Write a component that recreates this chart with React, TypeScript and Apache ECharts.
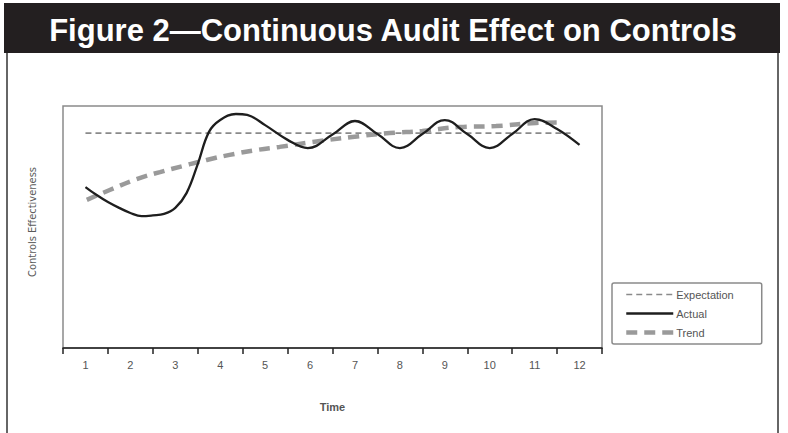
import React, { useEffect, useRef } from "react";
import * as echarts from "echarts";

const timeLabels = ["1", "2", "3", "4", "5", "6", "7", "8", "9", "10", "11", "12"];

const actualX = [1, 1.25, 1.5, 1.75, 2, 2.25, 2.5, 2.75, 3, 3.25, 3.5, 3.75, 4, 4.35, 4.6, 5, 5.5, 5.95, 6.5, 7, 7.5, 8, 8.5, 9, 9.5, 10, 10.5, 11, 11.5, 12];
const actualY = [66.5, 63.2, 60.3, 57.9, 55.8, 54.5, 54.8, 55.4, 57.9, 64.0, 76.0, 89.3, 94.2, 96.7, 96.3, 92.1, 86.0, 82.6, 88.2, 93.8, 88.4, 82.6, 88.4, 94.2, 88.4, 82.6, 88.4, 94.6, 90.5, 83.9];

const trendX = [1.03, 1.54, 2.14, 2.66, 3.17, 3.7, 4.21, 4.81, 5.32, 6.06, 6.94, 7.77, 8.5, 9.32, 10.14, 11.03, 11.55];
const trendY = [61.2, 65.3, 69.8, 72.7, 75.2, 77.7, 79.8, 81.8, 83.1, 85.1, 87.2, 88.8, 89.7, 91.3, 91.7, 93.0, 93.2];

const expectationX = [1, 11.8];
const expectationY = [88.8, 88.8];

const zip = (xs: number[], ys: number[]) => xs.map((x, i) => [x, ys[i]]);

export default function App() {
  const ref = useRef<HTMLDivElement>(null);
  useEffect(() => {
    if (!ref.current) return;
    const chart = echarts.init(ref.current, null, { renderer: "svg" });
    const expStyle = { color: "#8a8a8a", width: 1.6, type: [6, 4] as any };
    const actStyle = { color: "#1e1e1e", width: 2.3, type: "solid" as any };
    const trStyle = { color: "#9a9a9a", width: 4.5, type: [11, 7] as any };
    const hiddenSymbol = { opacity: 0, color: "transparent", borderWidth: 0 };
    chart.setOption({
      animation: false,
      backgroundColor: "#ffffff",
      graphic: [
        { type: "rect", shape: { x: 4, y: 3, width: 776, height: 50 }, style: { fill: "#231f20" } },
        {
          type: "text",
          x: 393,
          y: 30,
          style: {
            text: "Figure 2\u2014Continuous Audit Effect on Controls",
            fill: "#ffffff",
            font: "bold 31px 'Liberation Sans', Arial, sans-serif",
            textAlign: "center",
            textVerticalAlign: "middle",
          },
        },
        { type: "line", shape: { x1: 7, y1: 53, x2: 7, y2: 433 }, style: { stroke: "#666", lineWidth: 2 } },
        { type: "line", shape: { x1: 778, y1: 53, x2: 778, y2: 433 }, style: { stroke: "#666", lineWidth: 2 } },
        {
          type: "text",
          x: 32,
          y: 222,
          rotation: Math.PI / 2,
          style: {
            text: "Controls Effectiveness",
            fill: "#5a5a5a",
            font: "11px 'Liberation Sans Narrow', 'DejaVu Sans Condensed', sans-serif",
            textAlign: "center",
            textVerticalAlign: "middle",
          },
        },
      ],
      grid: {
        left: 63,
        top: 106,
        right: 186,
        bottom: 85,
        show: true,
        borderColor: "#8a8a8a",
        borderWidth: 1.5,
      },
      legend: {
        orient: "vertical",
        left: 612,
        top: 283,
        itemWidth: 47,
        itemHeight: 12,
        itemGap: 8,
        padding: [6, 28, 6, 12],
        borderColor: "#8a8a8a",
        borderWidth: 1.5,
        borderRadius: 2,
        textStyle: { color: "#555", fontSize: 11, fontFamily: "'Liberation Sans', Arial, sans-serif", padding: [0, 0, 0, -2] },
        data: [
          { name: "Expectation", lineStyle: expStyle, itemStyle: hiddenSymbol },
          { name: "Actual", lineStyle: actStyle, itemStyle: hiddenSymbol },
          { name: "Trend", lineStyle: trStyle, itemStyle: hiddenSymbol },
        ],
      },
      xAxis: [
        {
          type: "category",
          data: timeLabels,
          boundaryGap: true,
          position: "bottom",
          axisLine: { lineStyle: { color: "#222", width: 1.5 } },
          axisTick: { show: true, length: 6, lineStyle: { color: "#222", width: 1.5 } },
          axisLabel: { color: "#555", fontSize: 11, margin: 11, fontFamily: "'Liberation Sans', Arial, sans-serif" },
          splitLine: { show: false },
          name: "Time",
          nameLocation: "middle",
          nameGap: 53,
          nameTextStyle: { color: "#555", fontSize: 11, fontWeight: "bold", fontFamily: "'Liberation Sans', Arial, sans-serif" },
        },
        {
          type: "value",
          min: 0.5,
          max: 12.5,
          show: false,
        },
      ],
      yAxis: {
        type: "value",
        min: 0,
        max: 100,
        show: false,
      },
      series: [
        {
          name: "Expectation",
          type: "line",
          xAxisIndex: 1,
          data: zip(expectationX, expectationY),
          showSymbol: false,
          symbol: "none",
          lineStyle: expStyle,
          itemStyle: { color: expStyle.color },
          z: 2,
        },
        {
          name: "Actual",
          type: "line",
          xAxisIndex: 1,
          data: zip(actualX, actualY),
          smooth: 0.4,
          showSymbol: false,
          symbol: "none",
          lineStyle: actStyle,
          itemStyle: { color: actStyle.color },
          z: 4,
        },
        {
          name: "Trend",
          type: "line",
          xAxisIndex: 1,
          data: zip(trendX, trendY),
          smooth: 0.5,
          showSymbol: false,
          symbol: "none",
          lineStyle: trStyle,
          itemStyle: { color: trStyle.color },
          z: 3,
        },
      ],
    });
    return () => chart.dispose();
  }, []);
  return <div ref={ref} style={{ position: "fixed", left: 0, top: 0, width: 788, height: 433 }} />;
}
